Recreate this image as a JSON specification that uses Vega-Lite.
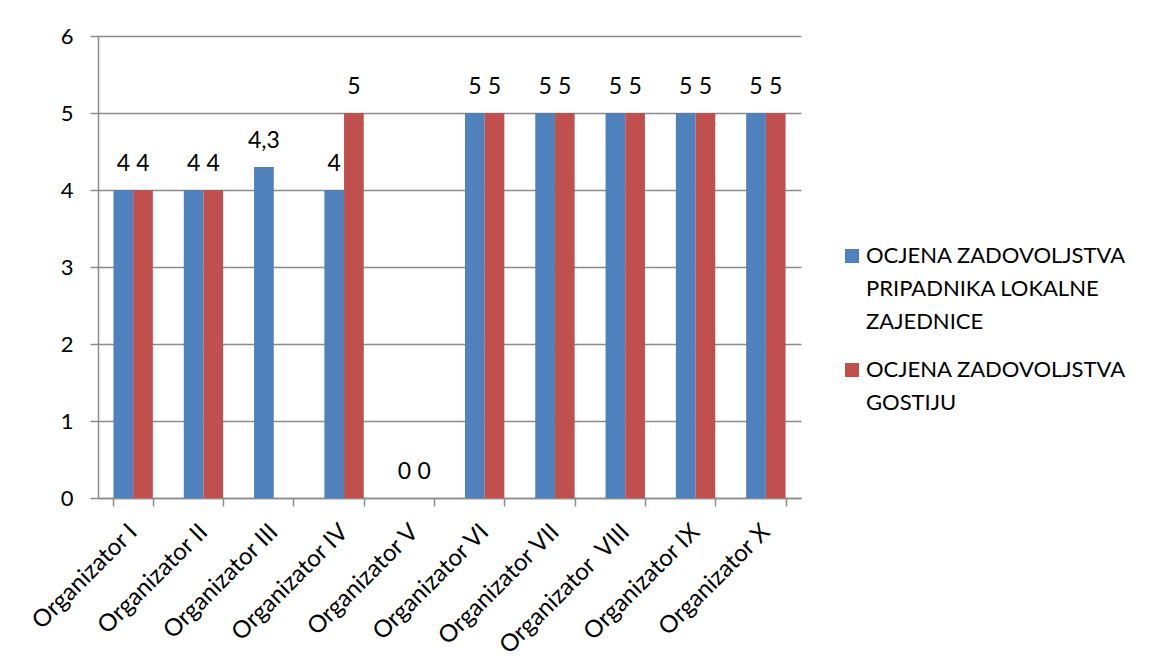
{
  "$schema": "https://vega.github.io/schema/vega-lite/v6.json",
  "width": 703,
  "height": 462,
  "autosize": "none",
  "padding": {"left": 98, "top": 36, "right": 352, "bottom": 174},
  "background": "white",
  "config": {
    "font": "Lato",
    "view": {"stroke": null},
    "style": {"guide-label": {"lineHeight": 33}},
    "locale": {"number": {"decimal": ",", "thousands": ".", "grouping": [3], "currency": ["", " €"]}},
    "axis": {"labelFont": "Lato", "labelColor": "black", "domainColor": "#8c8c8c", "tickColor": "#8c8c8c", "gridColor": "#8c8c8c", "domainWidth": 1.5, "tickWidth": 1.5, "gridWidth": 1.5}
  },
  "data": {
    "values": [
      {"org": "Organizator I", "serija": "OCJENA ZADOVOLJSTVA PRIPADNIKA LOKALNE ZAJEDNICE", "ocjena": 4},
      {"org": "Organizator I", "serija": "OCJENA ZADOVOLJSTVA GOSTIJU", "ocjena": 4},
      {"org": "Organizator II", "serija": "OCJENA ZADOVOLJSTVA PRIPADNIKA LOKALNE ZAJEDNICE", "ocjena": 4},
      {"org": "Organizator II", "serija": "OCJENA ZADOVOLJSTVA GOSTIJU", "ocjena": 4},
      {"org": "Organizator III", "serija": "OCJENA ZADOVOLJSTVA PRIPADNIKA LOKALNE ZAJEDNICE", "ocjena": 4.3},
      {"org": "Organizator IV", "serija": "OCJENA ZADOVOLJSTVA PRIPADNIKA LOKALNE ZAJEDNICE", "ocjena": 4},
      {"org": "Organizator IV", "serija": "OCJENA ZADOVOLJSTVA GOSTIJU", "ocjena": 5},
      {"org": "Organizator V", "serija": "OCJENA ZADOVOLJSTVA PRIPADNIKA LOKALNE ZAJEDNICE", "ocjena": 0},
      {"org": "Organizator V", "serija": "OCJENA ZADOVOLJSTVA GOSTIJU", "ocjena": 0},
      {"org": "Organizator VI", "serija": "OCJENA ZADOVOLJSTVA PRIPADNIKA LOKALNE ZAJEDNICE", "ocjena": 5},
      {"org": "Organizator VI", "serija": "OCJENA ZADOVOLJSTVA GOSTIJU", "ocjena": 5},
      {"org": "Organizator VII", "serija": "OCJENA ZADOVOLJSTVA PRIPADNIKA LOKALNE ZAJEDNICE", "ocjena": 5},
      {"org": "Organizator VII", "serija": "OCJENA ZADOVOLJSTVA GOSTIJU", "ocjena": 5},
      {"org": "Organizator\u00a0 VIII", "serija": "OCJENA ZADOVOLJSTVA PRIPADNIKA LOKALNE ZAJEDNICE", "ocjena": 5},
      {"org": "Organizator\u00a0 VIII", "serija": "OCJENA ZADOVOLJSTVA GOSTIJU", "ocjena": 5},
      {"org": "Organizator IX", "serija": "OCJENA ZADOVOLJSTVA PRIPADNIKA LOKALNE ZAJEDNICE", "ocjena": 5},
      {"org": "Organizator IX", "serija": "OCJENA ZADOVOLJSTVA GOSTIJU", "ocjena": 5},
      {"org": "Organizator X", "serija": "OCJENA ZADOVOLJSTVA PRIPADNIKA LOKALNE ZAJEDNICE", "ocjena": 5},
      {"org": "Organizator X", "serija": "OCJENA ZADOVOLJSTVA GOSTIJU", "ocjena": 5}
    ]
  },
  "encoding": {
    "x": {
      "field": "org", "type": "nominal", "sort": null, "title": null,
      "scale": {"paddingInner": 0.44, "paddingOuter": 0.22},
      "axis": {"labelAngle": -45, "labelAlign": "right", "labelBaseline": "middle", "labelFontSize": 24, "tickSize": 8, "labelPadding": 22, "tickBand": "extent", "grid": false}
    },
    "xOffset": {"field": "serija", "type": "nominal", "sort": null, "scale": {"paddingInner": 0, "paddingOuter": 0, "domain": ["OCJENA ZADOVOLJSTVA PRIPADNIKA LOKALNE ZAJEDNICE", "OCJENA ZADOVOLJSTVA GOSTIJU"]}},
    "y": {
      "field": "ocjena", "type": "quantitative", "title": null,
      "scale": {"domain": [0, 6], "nice": false},
      "axis": {"values": [0, 1, 2, 3, 4, 5, 6], "labelFontSize": 22, "tickSize": 8, "labelPadding": 17, "grid": true, "format": "d"}
    }
  },
  "layer": [
    {
      "mark": {"type": "bar"},
      "encoding": {
        "color": {
          "field": "serija", "type": "nominal", "title": null,
          "scale": {"domain": ["OCJENA ZADOVOLJSTVA PRIPADNIKA LOKALNE ZAJEDNICE", "OCJENA ZADOVOLJSTVA GOSTIJU"], "range": ["#4F81BD", "#C0504D"]},
          "legend": {
            "orient": "none", "legendX": 743, "legendY": 199,
            "symbolType": "M-1,0.43H1V2.43H-1Z", "symbolSize": 196, "symbolStrokeWidth": 0,
            "labelFontSize": 22, "labelFont": "Lato", "labelColor": "black",
            "labelBaseline": "top", "labelOffset": 3, "rowPadding": 16, "labelLimit": 400,
            "labelExpr": "datum.value == 'OCJENA ZADOVOLJSTVA GOSTIJU' ? ['OCJENA ZADOVOLJSTVA', 'GOSTIJU'] : ['OCJENA ZADOVOLJSTVA', 'PRIPADNIKA LOKALNE', 'ZAJEDNICE']"
          }
        }
      }
    },
    {
      "mark": {"type": "text", "baseline": "alphabetic", "dy": -19, "fontSize": 23, "font": "Lato", "color": "black"},
      "encoding": {
        "text": {"field": "ocjena", "type": "quantitative", "format": ".1~f"}
      }
    }
  ]
}
